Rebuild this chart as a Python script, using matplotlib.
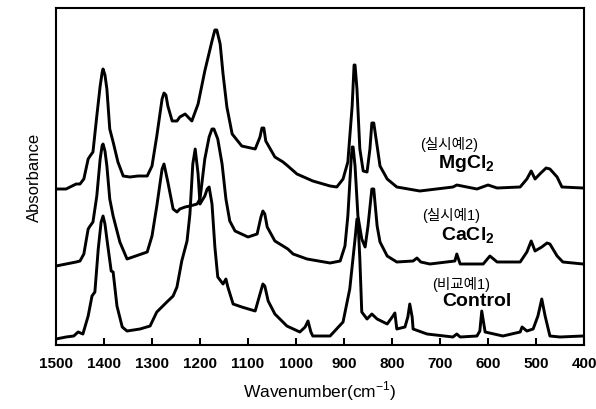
import matplotlib
matplotlib.use('Agg')
import matplotlib.pyplot as plt

plt.rcParams['font.family'] = ['Liberation Sans', 'Noto Sans CJK KR']
plt.rcParams['mathtext.fontset'] = 'custom'
plt.rcParams['mathtext.rm'] = 'Liberation Sans'
plt.rcParams['mathtext.bf'] = 'Liberation Sans:bold'

# IR spectra, offset vertically (arbitrary absorbance units)
mg_wn = [1500, 1479, 1458, 1450, 1442, 1433, 1429, 1423, 1415, 1408, 1404, 1402,
         1398, 1394, 1388, 1381, 1371, 1360, 1346, 1329, 1310, 1300, 1290, 1279,
         1275, 1271, 1267, 1258, 1248, 1242, 1231, 1225, 1217, 1204, 1190, 1175,
         1169, 1165, 1158, 1152, 1144, 1133, 1113, 1085, 1075, 1071, 1067, 1063,
         1044, 1027, 1017, 998, 965, 929, 915, 902, 892, 883, 879, 877, 873, 867,
         860, 852, 846, 842, 838, 831, 825, 810, 790, 742, 673, 665, 623, 600,
         581, 533, 519, 510, 502, 492, 479, 471, 456, 446, 402]
mg_abs = [1.56, 1.56, 1.61, 1.61, 1.66, 1.86, 1.89, 1.93, 2.29, 2.59, 2.72, 2.76,
          2.70, 2.56, 2.16, 2.03, 1.83, 1.69, 1.68, 1.69, 1.69, 1.79, 2.09, 2.46,
          2.52, 2.50, 2.39, 2.24, 2.24, 2.28, 2.31, 2.28, 2.24, 2.41, 2.74, 3.04,
          3.15, 3.15, 3.01, 2.71, 2.38, 2.11, 1.99, 1.96, 2.08, 2.17, 2.17, 2.04,
          1.88, 1.83, 1.79, 1.71, 1.64, 1.59, 1.58, 1.66, 1.83, 2.39, 2.80, 2.80,
          2.56, 1.96, 1.74, 1.73, 1.96, 2.22, 2.22, 1.99, 1.79, 1.66, 1.58, 1.54,
          1.58, 1.60, 1.56, 1.60, 1.57, 1.58, 1.66, 1.74, 1.66, 1.71, 1.77, 1.76,
          1.68, 1.58, 1.57]

ca_wn = [1500, 1479, 1458, 1450, 1442, 1433, 1429, 1423, 1415, 1408, 1404, 1402,
         1398, 1394, 1388, 1381, 1367, 1352, 1340, 1310, 1300, 1290, 1279, 1275,
         1267, 1256, 1248, 1242, 1231, 1221, 1206, 1200, 1190, 1181, 1175, 1171,
         1163, 1154, 1146, 1138, 1127, 1100, 1081, 1073, 1069, 1065, 1060, 1044,
         1027, 1017, 1006, 977, 929, 908, 898, 892, 885, 883, 881, 877, 871, 863,
         856, 850, 842, 838, 831, 825, 810, 790, 756, 748, 740, 721, 669, 665,
         658, 610, 596, 581, 533, 519, 510, 502, 488, 477, 471, 456, 444, 402]
ca_abs = [0.79, 0.81, 0.83, 0.84, 0.91, 1.16, 1.19, 1.23, 1.49, 1.86, 1.99, 2.01,
          1.94, 1.79, 1.46, 1.29, 1.03, 0.86, 0.88, 0.93, 1.09, 1.39, 1.76, 1.81,
          1.63, 1.36, 1.33, 1.36, 1.38, 1.39, 1.41, 1.46, 1.86, 2.08, 2.16, 2.16,
          2.06, 1.81, 1.46, 1.24, 1.14, 1.08, 1.11, 1.28, 1.34, 1.31, 1.18, 1.04,
          0.99, 0.96, 0.91, 0.86, 0.82, 0.84, 0.99, 1.29, 1.86, 1.98, 1.98, 1.79,
          1.29, 1.06, 0.98, 1.19, 1.56, 1.56, 1.19, 1.03, 0.89, 0.83, 0.84, 0.87,
          0.83, 0.81, 0.84, 0.91, 0.81, 0.81, 0.89, 0.83, 0.83, 0.93, 1.04, 0.94,
          0.98, 1.02, 1.01, 0.89, 0.83, 0.81]

ctrl_wn = [1500, 1479, 1463, 1454, 1444, 1433, 1425, 1419, 1412, 1406, 1402, 1398,
           1394, 1385, 1381, 1373, 1362, 1352, 1325, 1304, 1290, 1269, 1256, 1248,
           1238, 1227, 1221, 1215, 1210, 1204, 1200, 1190, 1185, 1181, 1175, 1169,
           1163, 1152, 1146, 1142, 1131, 1113, 1085, 1075, 1069, 1065, 1058, 1044,
           1019, 992, 981, 975, 969, 965, 929, 902, 888, 877, 873, 871, 867, 863,
           852, 842, 831, 810, 798, 794, 790, 773, 767, 763, 758, 756, 727, 673,
           665, 658, 623, 617, 613, 606, 569, 533, 529, 519, 506, 496, 488, 481,
           471, 450, 402]
ctrl_abs = [0.06, 0.08, 0.09, 0.13, 0.11, 0.29, 0.49, 0.53, 0.96, 1.23, 1.29, 1.21,
            1.06, 0.74, 0.73, 0.39, 0.18, 0.14, 0.16, 0.19, 0.33, 0.43, 0.49, 0.58,
            0.84, 1.04, 1.31, 1.81, 1.96, 1.71, 1.41, 1.49, 1.56, 1.58, 1.41, 0.98,
            0.68, 0.61, 0.66, 0.58, 0.41, 0.38, 0.34, 0.51, 0.61, 0.59, 0.44, 0.31,
            0.19, 0.13, 0.18, 0.24, 0.13, 0.09, 0.09, 0.23, 0.56, 1.06, 1.26, 1.26,
            0.86, 0.33, 0.26, 0.31, 0.26, 0.21, 0.29, 0.32, 0.16, 0.18, 0.28, 0.41,
            0.28, 0.16, 0.11, 0.08, 0.11, 0.08, 0.09, 0.14, 0.34, 0.13, 0.09, 0.13,
            0.18, 0.14, 0.16, 0.29, 0.46, 0.29, 0.09, 0.08, 0.09]

xticks = [1500, 1400, 1300, 1200, 1100, 1000, 900, 800, 700, 600, 500, 400]

fig = plt.figure(figsize=(5.96, 4.10), dpi=100)
ax = fig.add_axes([56 / 596, 64 / 410, 528 / 596, 337 / 410])

for wn, ab in [(mg_wn, mg_abs), (ca_wn, ca_abs), (ctrl_wn, ctrl_abs)]:
    ax.plot(wn, ab, color='black', lw=2.1,
            solid_joinstyle='round', solid_capstyle='round')

ax.set_xlim(1500, 400)
ax.set_ylim(0, 3.37)
ax.set_xticks(xticks)
ax.set_xticklabels([str(t) for t in xticks], fontsize=11, fontweight='bold')
ax.set_yticks([])
ax.tick_params(axis='x', direction='in', length=5, width=1.5, pad=8)
for sp in ax.spines.values():
    sp.set_linewidth(1.5)

ax.set_xlabel('Wavenumber(cm$^{-1}$)', fontsize=12.5, labelpad=6)
ax.set_ylabel('Absorbance', fontsize=12, labelpad=10)

# sample labels
ax.text(680, 2.02, '(실시예2)', ha='center', va='center', fontsize=10.5)
ax.text(646, 1.82, r'$\mathbf{MgCl_2}$', ha='center', va='center', fontsize=14)
ax.text(677, 1.30, '(실시예1)', ha='center', va='center', fontsize=10.5)
ax.text(642, 1.11, r'$\mathbf{CaCl_2}$', ha='center', va='center', fontsize=14)
ax.text(655, 0.61, '(비교예1)', ha='center', va='center', fontsize=10.5)
ax.text(623, 0.44, 'Control', ha='center', va='center', fontsize=14,
        fontweight='bold')

fig.savefig('out.png', dpi=100)
